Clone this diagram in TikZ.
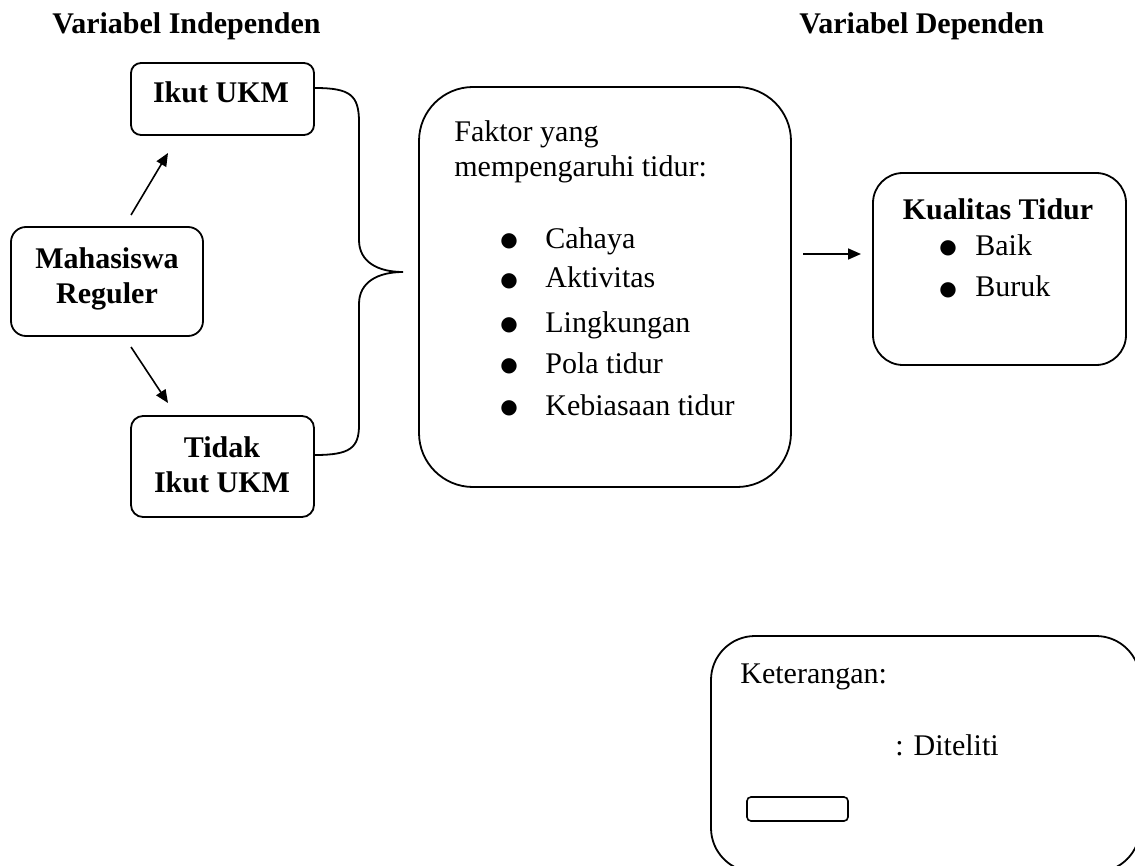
\documentclass[tikz,border=0pt]{standalone}
\usepackage{fontspec}
\setmainfont{Liberation Serif}
\newfontfamily\symfont{DejaVu Sans}
\usetikzlibrary{arrows.meta,calc}
\newcommand{\bigbul}{\raisebox{1pt}{\symfont\fontsize{10}{10}\selectfont ●}}
\begin{document}
\begin{tikzpicture}[x=0.5pt,y=-0.5pt,
  every node/.style={font=\fontsize{15}{17}\selectfont, inner sep=0pt},
  box/.style={draw, line width=0.9pt, rounded corners=#1},
  tb/.style={anchor=base, font=\fontsize{15}{17}\selectfont\bfseries},
  tw/.style={anchor=base west},
  arr/.style={-{Triangle[length=6.5pt,width=5.5pt]}, line width=0.8pt},
  brace/.style={line width=0.9pt}]
\useasboundingbox (0,0) rectangle (1135,866);

% headings
\node[anchor=base west, font=\fontsize{15}{17}\selectfont\bfseries] (hind) at (52,34) {Variabel Independen};
\node[anchor=base west, font=\fontsize{15}{17}\selectfont\bfseries] (hdep) at (799,34) {Variabel Dependen};

% left boxes
\node[box=5pt, minimum width=91.5pt, minimum height=36pt] (ikut) at (222.5,99) {};
\node[tb] (ikutt) at (221,103) {Ikut UKM};

\node[box=7.5pt, minimum width=96pt, minimum height=54.5pt] (mhs) at (107,281.5) {};
\node[tb] (mhs1) at (107,269) {Mahasiswa};
\node[tb] (mhs2) at (107,304) {Reguler};

\node[box=6pt, minimum width=91.5pt, minimum height=50.5pt] (tdk) at (222.5,466.5) {};
\node[tb] (tdk1) at (222,457) {Tidak};
\node[tb] (tdk2) at (222,492) {Ikut UKM};

% arrows from Mahasiswa
\coordinate (u1) at (131,215);
\coordinate (u2) at (168,153);
\coordinate (d1) at (131,347);
\coordinate (d2) at (168,403);
\draw[arr] (u1) -- (u2);
\draw[arr] (d1) -- (d2);

% brace
\coordinate (bt) at ($(ikut.east)+(0,-11)$);
\coordinate (bb) at ($(tdk.east)+(0,-11.5)$);
\coordinate (tip) at (403,272);
\draw[brace] (bt) .. controls (350,88) and (359,95) .. (359,122)
  -- (359,240) .. controls (359,262) and (378,272) .. (tip)
  .. controls (378,272) and (359,282) .. (359,304)
  -- (359,425) .. controls (359,448) and (350,455) .. (bb);

% factor box
\node[box=27pt, minimum width=186pt, minimum height=200pt] (fak) at (605,287) {};
\node[tw] (f1) at (454,142) {Faktor yang};
\node[tw] (f2) at (454,177) {mempengaruhi tidur:};
\node[tw] (c1) at (500,249) {\makebox[22.5pt][l]{\bigbul}Cahaya};
\node[tw] (c2) at (500,288) {\makebox[22.5pt][l]{\bigbul}Aktivitas};
\node[tw] (c3) at (500,332) {\makebox[22.5pt][l]{\bigbul}Lingkungan};
\node[tw] (c4) at (500,373) {\makebox[22.5pt][l]{\bigbul}Pola tidur};
\node[tw] (c5) at (500,415) {\makebox[22.5pt][l]{\bigbul}Kebiasaan tidur};

% quality box
\node[box=15pt, minimum width=126.5pt, minimum height=96pt] (kual) at (999.5,269) {};
\node[tb] (k0) at (998,220) {Kualitas Tidur};
\node[tw] (k1) at (939,256) {\makebox[18pt][l]{\bigbul}Baik};
\node[tw] (k2) at (939,297) {\makebox[18pt][l]{\bigbul}Buruk};

% arrow factor -> quality
\coordinate (a1) at (803,254);
\coordinate (a2) at (861,254);
\draw[arr] (a1) -- (a2);

% legend box
\node[box=22pt, minimum width=214.5pt, minimum height=118pt] (ket) at (925.5,754) {};
\node[tw] (ket1) at (740,683) {Keterangan:};
\node[tw] (ket2) at (895,755) {: Diteliti};
\node[box=2pt, line width=0.8pt, minimum width=50.5pt, minimum height=12pt] (sym) at (797.5,809) {};
\end{tikzpicture}
\end{document}
